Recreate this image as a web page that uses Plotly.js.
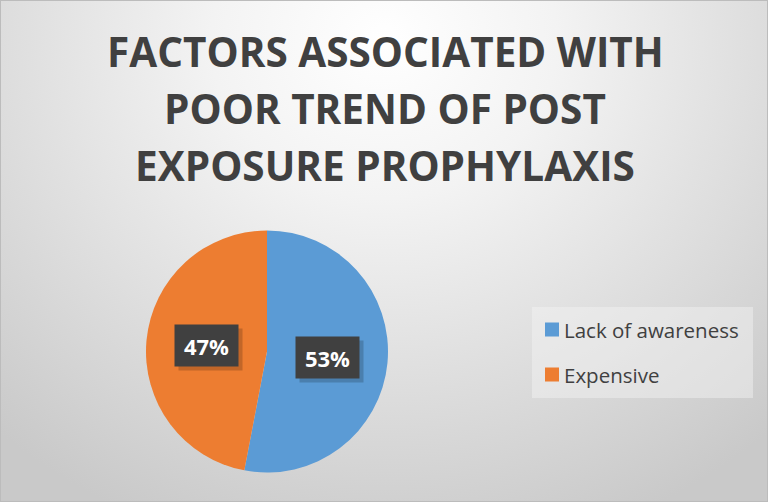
<!DOCTYPE html>
<html>
<head>
<meta charset="utf-8">
<script src="https://cdn.plot.ly/plotly-3.0.1.min.js"></script>
<style>
  html, body { margin: 0; padding: 0; }
  #chart {
    width: 768px; height: 502px;
    background: radial-gradient(ellipse 75% 105% at 50% 8%, #ffffff 0%, #f3f3f3 30%, #dedede 65%, #c9c9c9 100%);
    box-shadow: inset 0 0 0 1px #bcbcbc;
  }
</style>
</head>
<body>
<div id="chart"></div>
<script>
// ---- data ----
const titleLines = ["FACTORS ASSOCIATED WITH", "POOR TREND OF POST", "EXPOSURE PROPHYLAXIS"];
const categories = ["Lack of awareness", "Expensive"];
const values = [53, 47];
const colors = ["#5B9BD5", "#ED7D31"];

// ---- geometry helpers (page pixels -> paper fraction) ----
const W = 768, H = 502;
const px = x => x / W;
const py = y => 1 - y / H;

// pie area
const pieLeft = 146, pieRight = 388, pieTop = 230, pieBottom = 473;
const cx = (pieLeft + pieRight) / 2, cy = (pieTop + pieBottom) / 2;
const R = Math.min(pieRight - pieLeft, pieBottom - pieTop) / 2;

const trace = {
  type: "pie",
  labels: categories,
  values: values,
  sort: false,
  direction: "clockwise",
  rotation: 0,
  marker: { colors: colors, line: { width: 0 } },
  textinfo: "none",
  hoverinfo: "label+percent",
  showlegend: false,
  domain: { x: [px(pieLeft), px(pieRight)], y: [py(pieBottom), py(pieTop)] }
};

const annotations = [];
const shapes = [];

// title lines
const titleY = [51, 108, 166];
titleLines.forEach((t, i) => {
  annotations.push({
    xref: "paper", yref: "paper", x: px(385), y: py(titleY[i]),
    xanchor: "center", yanchor: "middle", showarrow: false,
    text: "<b>" + t + "</b>",
    font: { family: "Open Sans", size: 40.5, color: "#404040" }
  });
});

// data labels (percent boxes) at half radius on slice mid-angle
const total = values.reduce((a, b) => a + b, 0);
let cum = 0;
values.forEach((v, i) => {
  const mid = (cum + v / 2) / total; // fraction clockwise from 12 o'clock
  cum += v;
  const ang = Math.PI / 2 - mid * 2 * Math.PI;
  const lx = cx + 0.5 * R * Math.cos(ang);
  const ly = cy - 0.5 * R * Math.sin(ang);
  const pct = Math.round(v / total * 100) + "%";
  // shadow
  annotations.push({
    xref: "paper", yref: "paper", x: px(lx + 4), y: py(ly + 4),
    xanchor: "center", yanchor: "middle", showarrow: false,
    text: " ", width: 61, height: 39, borderpad: 1,
    bgcolor: "rgba(0,0,0,0.18)"
  });
  annotations.push({
    xref: "paper", yref: "paper", x: px(lx), y: py(ly),
    xanchor: "center", yanchor: "middle", showarrow: false,
    text: "<b>" + pct + "</b>", width: 61, height: 39, borderpad: 1,
    bgcolor: "#404040",
    font: { family: "Open Sans", size: 22, color: "#ffffff" }
  });
});

// legend (drawn manually for Excel-like spacing)
shapes.push({
  type: "rect", xref: "paper", yref: "paper",
  x0: px(532), x1: px(753), y0: py(398), y1: py(307),
  fillcolor: "rgba(245,245,245,0.45)", line: { width: 0 }, layer: "below"
});
const legY = [329.5, 374.5];
categories.forEach((c, i) => {
  shapes.push({
    type: "rect", xref: "paper", yref: "paper",
    x0: px(545), x1: px(559), y0: py(legY[i] + 7), y1: py(legY[i] - 7),
    fillcolor: colors[i], line: { width: 0 }
  });
  annotations.push({
    xref: "paper", yref: "paper", x: px(562), y: py(legY[i]),
    xanchor: "left", yanchor: "middle", showarrow: false,
    text: c,
    font: { family: "Open Sans", size: 20.5, color: "#404040" }
  });
});

const layout = {
  width: W, height: H,
  margin: { l: 0, r: 0, t: 0, b: 0 },
  paper_bgcolor: "rgba(0,0,0,0)",
  plot_bgcolor: "rgba(0,0,0,0)",
  showlegend: false,
  annotations: annotations,
  shapes: shapes
};

Plotly.newPlot("chart", [trace], layout, { displayModeBar: false, staticPlot: true });
</script>
</body>
</html>
